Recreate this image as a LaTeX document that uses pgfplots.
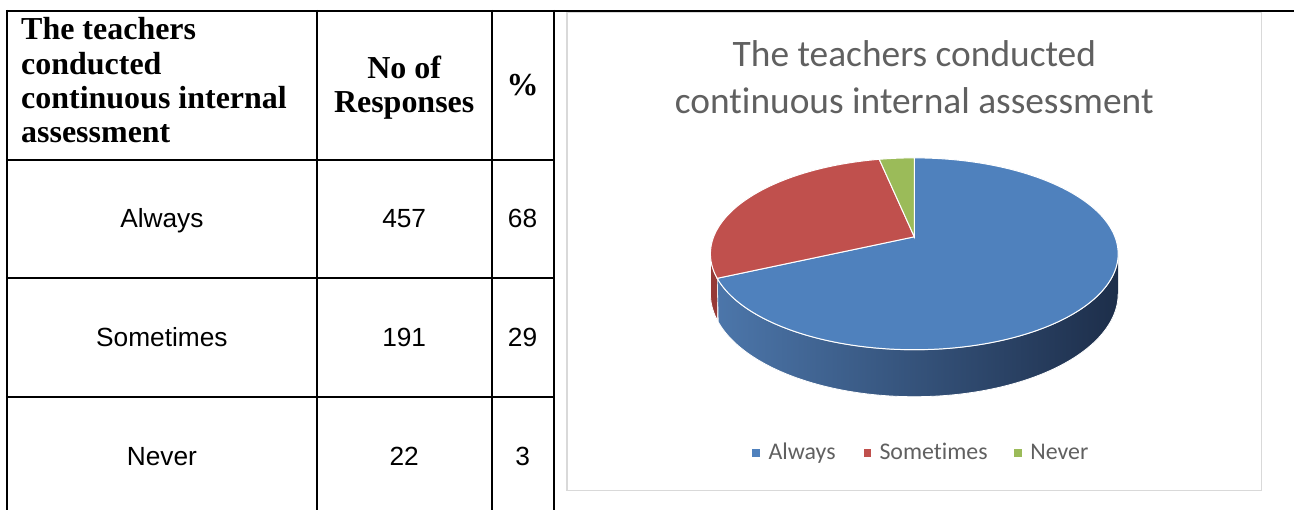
\documentclass[border=0pt]{standalone}
\usepackage{pgfplots}
\pgfplotsset{compat=1.18}
\usepackage{pgfplotstable}
\usepackage{fontspec}
\setmainfont{Liberation Serif}
\newfontfamily\arialf{Liberation Sans}
\newfontfamily\calf[Ligatures=NoCommon]{Carlito}

\definecolor{cAlways}{HTML}{4F81BD}
\definecolor{cSome}{HTML}{C0504D}
\definecolor{cNever}{HTML}{9BBB59}
\definecolor{sideL}{RGB}{76,118,170}
\definecolor{sideM}{RGB}{50,80,122}
\definecolor{sideR}{RGB}{29,46,74}
\definecolor{sideRed}{RGB}{150,58,55}
\definecolor{ttl}{HTML}{606060}
\definecolor{boxc}{HTML}{D9D9D9}

\pgfplotstableread{
label value
Always 457
Sometimes 191
Never 22
}\piedata

\begin{document}%
\begin{tikzpicture}
\pgfplotstablegetelem{0}{value}\of\piedata \let\vA\pgfplotsretval
\pgfplotstablegetelem{1}{value}\of\piedata \let\vS\pgfplotsretval
\pgfplotstablegetelem{2}{value}\of\piedata \let\vN\pgfplotsretval
\pgfmathsetmacro\tot{\vA+\vS+\vN}
\pgfmathsetmacro\fA{\vA/\tot}
\pgfmathsetmacro\fS{(\vA+\vS)/\tot}
\pgfmathsetmacro\aA{360*\fA}
\pgfmathsetmacro\aS{360*\fS}
\pgfmathsetmacro\vL{90+asin(0.177)}
\pgfmathsetmacro\vR{270-asin(0.177)}
\begin{axis}[scale only axis, width=1295pt, height=510pt,
  xmin=0, xmax=1295, ymin=0, ymax=510, y dir=reverse,
  hide axis, clip=false,
  declare function={
    px(\t)=915+200.8*sin(\t)/(1+0.177*cos(\t));
    py(\t)=237-93*cos(\t)/(1+0.177*cos(\t));
    pd(\t)=38.7/(1+0.177*cos(\t));
    th(\u,\a,\b)=\a+(\b-\a)*(1-abs(1-\u));
    rmp(\u)=min(1,max(0,(\u-1)*1000));
  }]
% bounding box
\path (axis cs:0,0) rectangle (axis cs:1295,510);

% chart box
\draw[boxc, line width=1.5pt] (axis cs:567.5,12.5) rectangle (axis cs:1262.5,491);

% title
\node[anchor=base, text=ttl, font=\calf\fontsize{37.4}{45}\selectfont, inner sep=0pt] at (axis cs:915,67) {The teachers conducted};
\node[anchor=base, text=ttl, font=\calf\fontsize{37.4}{45}\selectfont, inner sep=0pt] at (axis cs:915,114) {continuous internal assessment};

% pie sides
\addplot[draw=white, line width=0.8pt, left color=sideL, middle color=sideM, right color=sideR,
  domain=0:2, samples=301, variable=\u]
  ({px(th(\u,\vL,\aA))},{py(th(\u,\vL,\aA))+pd(th(\u,\vL,\aA))*rmp(\u)});
\addplot[draw=white, line width=0.8pt, fill=sideRed,
  domain=0:2, samples=101, variable=\u]
  ({px(th(\u,\aA,\vR))},{py(th(\u,\aA,\vR))+pd(th(\u,\aA,\vR))*rmp(\u)});

% pie tops
\addplot[fill=cAlways, draw=white, line width=1pt, domain=0:\aA, samples=150, variable=\t]
  ({px(\t)},{py(\t)}) -- (axis cs:915,237) -- cycle;
\addplot[fill=cSome, draw=white, line width=1pt, domain=\aA:\aS, samples=80, variable=\t]
  ({px(\t)},{py(\t)}) -- (axis cs:915,237) -- cycle;
\addplot[fill=cNever, draw=white, line width=1pt, domain=\aS:360, samples=20, variable=\t]
  ({px(\t)},{py(\t)}) -- (axis cs:915,237) -- cycle;

% legend
\fill[cAlways] (axis cs:753,449) rectangle (axis cs:761,457);
\fill[cSome] (axis cs:864.5,449) rectangle (axis cs:872,457);
\fill[cNever] (axis cs:1015,449) rectangle (axis cs:1022.5,457);
\node[anchor=base west, text=ttl, font=\calf\fontsize{23.9}{28}\selectfont, inner sep=0pt] at (axis cs:769,460) {Always};
\node[anchor=base west, text=ttl, font=\calf\fontsize{23.9}{28}\selectfont, inner sep=0pt] at (axis cs:880,460) {Sometimes};
\node[anchor=base west, text=ttl, font=\calf\fontsize{23.9}{28}\selectfont, inner sep=0pt] at (axis cs:1031,460) {Never};

% table lines
\draw[black, line width=2pt] (axis cs:6,11) -- (axis cs:1295,11);
\draw[black, line width=2pt] (axis cs:7,10) -- (axis cs:7,510);
\draw[black, line width=2pt] (axis cs:317,10) -- (axis cs:317,510);
\draw[black, line width=2pt] (axis cs:492,10) -- (axis cs:492,510);
\draw[black, line width=2pt] (axis cs:554,10) -- (axis cs:554,510);
\draw[black, line width=2pt] (axis cs:6,160) -- (axis cs:555,160);
\draw[black, line width=2pt] (axis cs:6,278) -- (axis cs:555,278);
\draw[black, line width=2pt] (axis cs:6,397) -- (axis cs:555,397);

% table header
\begin{scope}[every node/.style={inner sep=0pt, font=\bfseries\fontsize{32}{34}\selectfont}]
\node[anchor=base west] at (axis cs:21,40) {The teachers};
\node[anchor=base west] at (axis cs:21,74.3) {conducted};
\node[anchor=base west] at (axis cs:21,108.6) {continuous internal};
\node[anchor=base west] at (axis cs:21,142.9) {assessment};
\node[anchor=base] at (axis cs:404.5,78.3) {No of};
\node[anchor=base] at (axis cs:404.5,113) {Responses};
\node[anchor=base] at (axis cs:523,95.7) {\%};
\end{scope}

% table body
\begin{scope}[every node/.style={inner sep=0pt, font=\arialf\fontsize{26.3}{30}\selectfont, anchor=base}]
\node at (axis cs:162,227.5) {Always};
\node at (axis cs:404.5,227.5) {457};
\node at (axis cs:523,227.5) {68};
\node at (axis cs:162,346.5) {Sometimes};
\node at (axis cs:404.5,346.5) {191};
\node at (axis cs:523,346.5) {29};
\node at (axis cs:162,465.5) {Never};
\node at (axis cs:404.5,465.5) {22};
\node at (axis cs:523,465.5) {3};
\end{scope}
\end{axis}
\end{tikzpicture}%
\end{document}
